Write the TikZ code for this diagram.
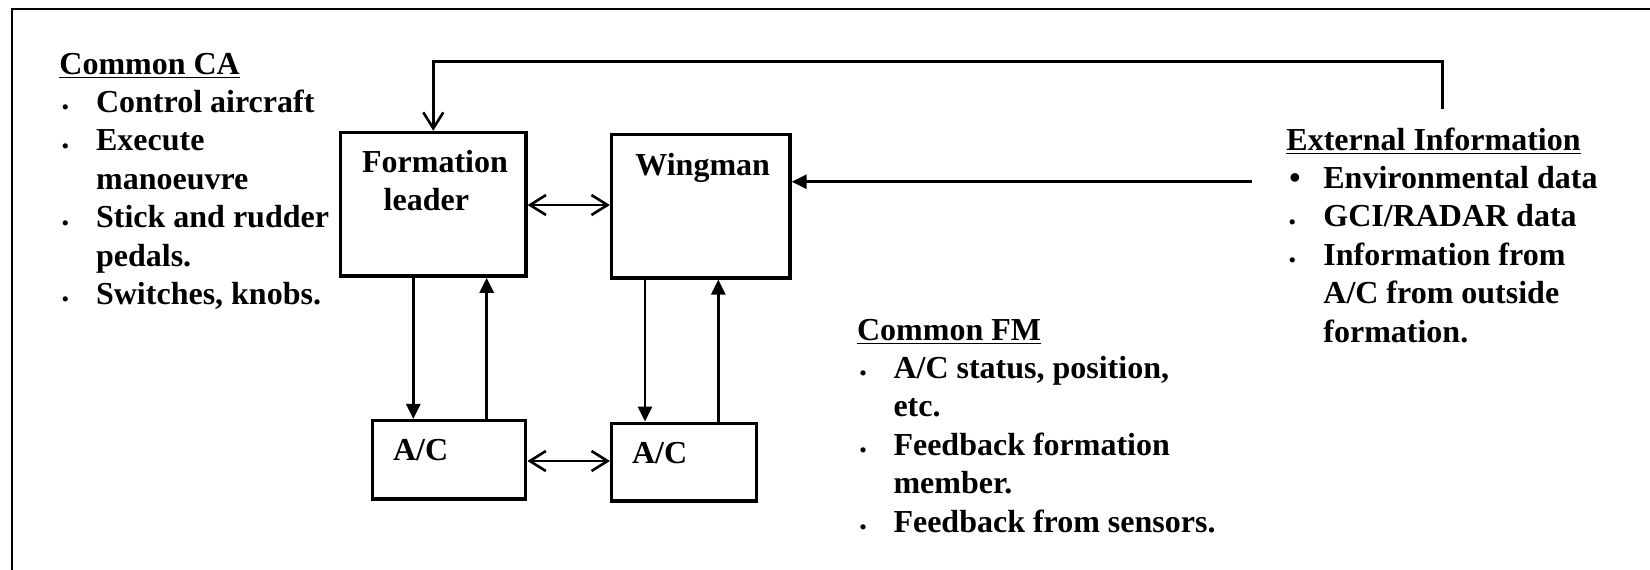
\documentclass[tikz,border=0pt]{standalone}
\usepackage{fontspec}
\setmainfont{Liberation Serif}
\usetikzlibrary{arrows.meta}

% small bullet used in the lists
\newcommand{\sdot}{\hspace*{1pt}\raisebox{1.3pt}{.}}
\newcommand{\bdot}{\hspace*{1.5pt}•}

\begin{document}
\begin{tikzpicture}[x=0.5pt,y=-0.5pt,
  every node/.style={font=\bfseries\fontsize{16pt}{19.2pt}\selectfont, inner sep=0pt},
  box/.style={draw, line width=1.7pt, rectangle},
  conn/.style={line width=1.4pt},
  solidtip/.style={conn, -{Triangle[length=7.5pt,width=7pt]}},
  opentip/.style={conn, -{Straight Barb[length=8pt,width=10pt,line width=1.3pt]}},
  bothopen/.style={conn, {Straight Barb[length=8pt,width=10pt,line width=1.3pt]}-{Straight Barb[length=8pt,width=10pt,line width=1.3pt]}},
  frame/.style={line width=1pt},
  listtext/.style={anchor=base west, align=left}
]
\useasboundingbox (0,0) rectangle (1650,569);

% outer frame
\draw[frame] (12,575) -- (12,9) -- (1660,9);

% blocks
\node[box, minimum width=92.6pt, minimum height=71.8pt] (fl) at (433.3,204.3) {};
\node[box, minimum width=89.2pt, minimum height=71.6pt] (wm) at (700.8,206.3) {};
\node[box, minimum width=76.7pt, minimum height=39.2pt] (acl) at (449,459.8) {};
\node[box, minimum width=72.5pt, minimum height=38.9pt] (acr) at (684.2,462.2) {};

% block labels
\node[anchor=base west] (fltext) at (361.7,172.3)
  {\begin{tabular}[t]{@{}l@{}}Formation\\\hspace*{10.8pt}leader\end{tabular}};
\node[anchor=base west] (wmtext) at (635,175) {Wingman};
\node[anchor=base west] (acltext) at (392.7,460.7) {A/C};
\node[anchor=base west] (acrtext) at (631.7,463) {A/C};

% vertical links between the blocks and their aircraft
\coordinate (fldown) at (413.3,0);
\coordinate (flup) at (486.7,0);
\coordinate (wmdown) at (645,0);
\coordinate (wmup) at (718.3,0);
\draw[solidtip] (fl.south -| fldown) -- (acl.north -| fldown);
\draw[solidtip] (acl.north -| flup) -- (fl.south -| flup);
\draw[solidtip] (wm.south -| wmdown) -- (acr.north -| wmdown);
\draw[solidtip] (acr.north -| wmup) -- (wm.south -| wmup);

% horizontal two-way links
\coordinate (upperrow) at (0,205);
\coordinate (lowerrow) at (0,461);
\draw[bothopen] (fl.east |- upperrow) -- (wm.west |- upperrow);
\draw[bothopen] (acl.east |- lowerrow) -- (acr.west |- lowerrow);

% external information feeds
\coordinate (extup) at (1442.7,109);
\coordinate (topcorner) at (433.3,61.7);
\coordinate (extin) at (1252,181.7);
\draw[opentip] (extup) |- (topcorner) -- (topcorner |- fl.north);
\draw[solidtip] (extin) -- (extin -| wm.east);

% text lists
\node[listtext] (ca) at (59,74) {%
\begin{tabular}[t]{@{}p{18.35pt}@{}l@{}}
\multicolumn{2}{@{}l@{}}{\underline{Common CA}}\\
\sdot & Control aircraft\\
\sdot & Execute\\
 & manoeuvre\\
\sdot & Stick and rudder\\
 & pedals.\\
\sdot & Switches, knobs.
\end{tabular}};

\node[listtext] (fm) at (856.7,340) {%
\begin{tabular}[t]{@{}p{18.2pt}@{}l@{}}
\multicolumn{2}{@{}l@{}}{\underline{Common FM}}\\
\sdot & A/C status, position,\\
 & etc.\\
\sdot & Feedback formation\\
 & member.\\
\sdot & Feedback from sensors.
\end{tabular}};

\node[listtext] (ext) at (1286,150) {%
\begin{tabular}[t]{@{}p{18.5pt}@{}l@{}}
\multicolumn{2}{@{}l@{}}{\underline{External Information}}\\
\bdot & Environmental data\\
\sdot & GCI/RADAR data\\
\sdot & Information from\\
 & A/C from outside\\
 & formation.
\end{tabular}};
\end{tikzpicture}
\end{document}
